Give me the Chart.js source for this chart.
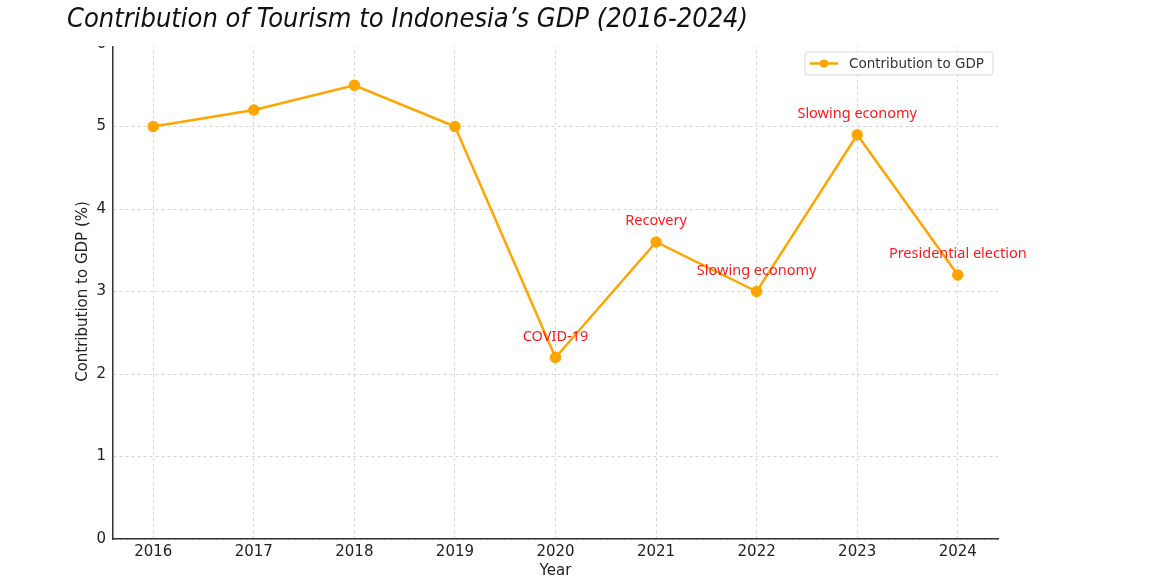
<!DOCTYPE html>
<html>
<head>
<meta charset="utf-8">
<script src="https://cdn.jsdelivr.net/npm/chart.js@4/dist/chart.umd.min.js"></script>
<style>
  html, body { margin: 0; padding: 0; background: #fff; }
  #wrap { width: 1170px; height: 583px; position: relative; }
</style>
</head>
<body>
<div id="wrap"><canvas id="gdpChart"></canvas></div>
<script>
const years = [2016, 2017, 2018, 2019, 2020, 2021, 2022, 2023, 2024];
const contribution = [5.0, 5.2, 5.5, 5.0, 2.2, 3.6, 3.0, 4.9, 3.2];
const events = ['', '', '', '', 'COVID-19', 'Recovery', 'Slowing economy', 'Slowing economy', 'Presidential election'];
const yTicks = [0, 1, 2, 3, 4, 5, 6];

const ORANGE = '#FFA500';

// titles, event notes and the in-plot legend
const extras = {
    id: 'extras',
    afterDatasetsDraw(chart) {
        const { ctx } = chart;
        const meta = chart.getDatasetMeta(0);
        ctx.save();
        ctx.font = '14.5px "Noto Sans"';
        ctx.fillStyle = '#ff1a1a';
        ctx.textAlign = 'center';
        ctx.textBaseline = 'middle';
        meta.data.forEach((pt, i) => {
            if (events[i]) ctx.fillText(events[i], pt.x, pt.y - 21);
        });
        ctx.restore();
    },
    afterDraw(chart) {
        const { ctx } = chart;
        ctx.save();
        // top of the figure is cropped in the reference
        ctx.fillStyle = '#fff';
        ctx.fillRect(0, 0, chart.width, 46);
        ctx.font = 'italic 27px "DejaVu Sans Condensed", "DejaVu Sans"';
        ctx.fillStyle = '#111';
        ctx.textBaseline = 'alphabetic';
        ctx.fillText('Contribution of Tourism to Indonesia\u2019s GDP (2016-2024)', 67, 27);

        // legend box
        const x = 805, y = 52, w = 188, h = 23;
        ctx.fillStyle = 'rgba(255,255,255,0.9)';
        ctx.strokeStyle = '#d9d9d9';
        ctx.lineWidth = 1;
        ctx.beginPath();
        ctx.roundRect(x, y, w, h, 3);
        ctx.fill();
        ctx.stroke();
        ctx.strokeStyle = ORANGE;
        ctx.lineWidth = 2.5;
        ctx.beginPath();
        ctx.moveTo(x + 5, y + 11.5);
        ctx.lineTo(x + 33, y + 11.5);
        ctx.stroke();
        ctx.fillStyle = ORANGE;
        ctx.beginPath();
        ctx.arc(x + 19, y + 11.5, 4, 0, Math.PI * 2);
        ctx.fill();
        ctx.fillStyle = '#333';
        ctx.font = '13.5px "DejaVu Sans"';
        ctx.textBaseline = 'middle';
        ctx.fillText('Contribution to GDP', x + 44, y + 12);
        ctx.restore();
    }
};

new Chart(document.getElementById('gdpChart'), {
    type: 'line',
    data: {
        datasets: [{
            label: 'Contribution to GDP',
            data: years.map((yr, i) => ({ x: yr, y: contribution[i] })),
            borderColor: ORANGE,
            backgroundColor: ORANGE,
            borderWidth: 2.5,
            pointRadius: 4.5,
            pointHoverRadius: 4.5,
            tension: 0,
        }],
    },
    options: {
        responsive: true,
        maintainAspectRatio: false,
        animation: false,
        layout: { padding: { top: 44, right: 172, left: 0, bottom: 0 } },
        scales: {
            x: {
                type: 'linear',
                min: 2015.6,
                max: 2024.4,
                afterBuildTicks: (s) => { s.ticks = years.map(v => ({ value: v })); },
                afterFit: (s) => { s.height = 44; },
                ticks: {
                    callback: (v) => String(v),
                    color: '#222',
                    font: { family: 'DejaVu Sans', size: 15 },
                    padding: 4,
                    maxRotation: 0,
                },
                grid: { color: '#d6d6d6', lineWidth: 1, drawTicks: false },
                border: { display: true, color: '#333', width: 1.5, dash: [3, 3] },
                title: {
                    display: true,
                    text: 'Year',
                    color: '#222',
                    font: { family: 'DejaVu Sans', size: 15 },
                    padding: { top: 0, bottom: 3 },
                },
            },
            y: {
                min: 0,
                max: 6,
                afterBuildTicks: (s) => { s.ticks = yTicks.map(v => ({ value: v })); },
                afterFit: (s) => { s.width = 113; },
                ticks: {
                    color: '#222',
                    font: { family: 'DejaVu Sans', size: 15 },
                    padding: 7,
                },
                grid: { color: '#d6d6d6', lineWidth: 1, drawTicks: false },
                border: { display: true, color: '#333', width: 1.5, dash: [3, 3] },
                title: {
                    display: true,
                    text: 'Contribution to GDP (%)',
                    color: '#222',
                    font: { family: 'DejaVu Sans', size: 15 },
                    padding: { top: 74, bottom: 0 },
                },
            },
        },
        plugins: {
            legend: { display: false },
            tooltip: { enabled: false },
        },
    },
    plugins: [extras],
});
</script>
</body>
</html>
